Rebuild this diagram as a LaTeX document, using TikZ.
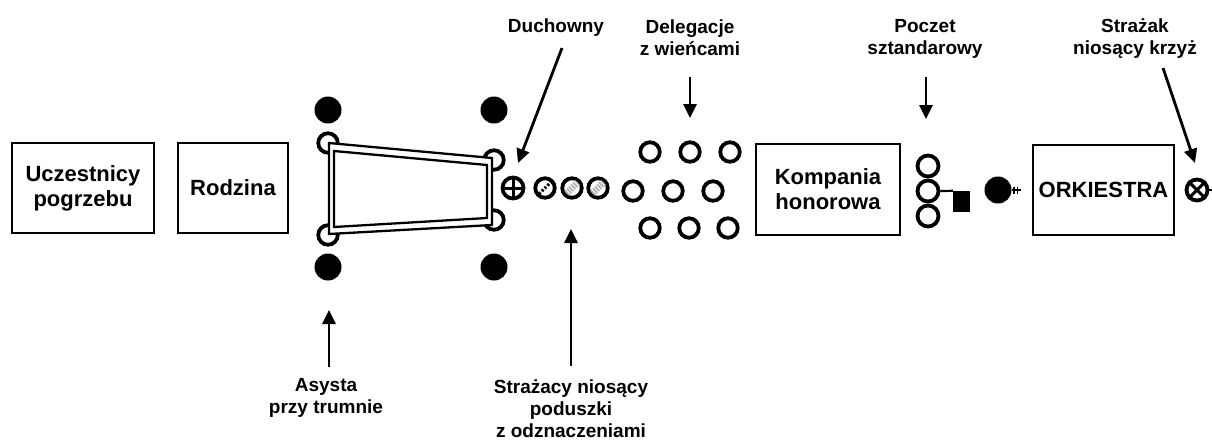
\documentclass[tikz,border=0pt]{standalone}
\usepackage{fontspec}
\setmainfont{Liberation Sans}
\usetikzlibrary{arrows.meta}
\newcommand{\boxfont}{\fontsize{22}{25}\selectfont\bfseries}
\newcommand{\lblfont}{\fontsize{19}{22}\selectfont\bfseries}
\begin{document}
\begin{tikzpicture}[x=1pt,y=-1pt,
  box/.style={draw, line width=2.3pt, inner sep=0pt, align=center, font=\boxfont},
  person/.style={circle, draw, line width=3.8pt, minimum size=19.5pt, inner sep=0pt, fill=white},
  dotp/.style={circle, fill, minimum size=27pt, inner sep=0pt},
  lbl/.style={font=\lblfont, align=center, inner sep=0pt, anchor=north},
  pointer/.style={line width=2.8pt, -{Triangle[width=13pt,length=14pt]}},
  hatchk/.style={line width=3pt, dash pattern=on 2.2pt off 1.8pt},
  hatchg/.style={line width=6.5pt, gray!60, dash pattern=on 1.8pt off 1.1pt}
]
\useasboundingbox (0,0) rectangle (1212,440);

% boxes
\node[box, minimum width=142pt, minimum height=90pt] (ucz) at (83,188) {Uczestnicy\\pogrzebu};
\node[box, minimum width=110pt, minimum height=90pt] (rodz) at (233,188) {Rodzina};
\node[box, minimum width=144pt, minimum height=91pt] (komp) at (828,189.5) {Kompania\\honorowa};
\node[box, minimum width=141pt, minimum height=90pt] (ork) at (1103.5,190) {ORKIESTRA};

% assistance at coffin
\node[dotp] (d1) at (328,110) {};
\node[dotp] (d2) at (328,267) {};
\node[dotp] (d3) at (494,110) {};
\node[dotp] (d4) at (494,267) {};
\node[person] (a1) at (328,143) {};
\node[person] (a2) at (328,235) {};
\node[person] (a3) at (494,160) {};
\node[person] (a4) at (494,220) {};

% coffin
\draw[line width=2.3pt, fill=white] (329,143) -- (492,158) -- (492,225) -- (329,234) -- cycle;
\draw[line width=2.3pt] (334,151) -- (487,165) -- (487,218) -- (334,227) -- cycle;

% priest
\node[person, minimum size=21pt] (duch) at (513,188) {};
\draw[line width=3pt] (duch.north) -- (duch.south) (duch.west) -- (duch.east);

% firefighters with cushions
\node[person] (p1) at (545,188) {};
\node[person] (p2) at (572,188) {};
\node[person] (p3) at (598,188) {};
\draw[hatchg] ([shift={(-5.5,5.5)}]p2.center) -- ([shift={(5.5,-5.5)}]p2.center);
\draw[hatchg] ([shift={(-5.5,5.5)}]p3.center) -- ([shift={(5.5,-5.5)}]p3.center);
\draw[hatchk] ([shift={(-6,6)}]p1.center) -- ([shift={(6,-6)}]p1.center);

% delegations
\node[person] (w1) at (650,152) {};
\node[person] (w2) at (690,152) {};
\node[person] (w3) at (730,152) {};
\node[person] (w4) at (633,191) {};
\node[person] (w5) at (673,191) {};
\node[person] (w6) at (713,191) {};
\node[person] (w7) at (650,228) {};
\node[person] (w8) at (689,228) {};
\node[person] (w9) at (728,228) {};

% banner party
\node[person, minimum size=21pt] (s1) at (928,166) {};
\node[person, minimum size=21pt] (s2) at (928,191) {};
\node[person, minimum size=21pt] (s3) at (928,216) {};
\node[fill, minimum width=17pt, minimum height=21pt, inner sep=0pt] (flag) at (961.5,201.5) {};
\draw[line width=2.2pt] (s2.east) -- (flag.north west);

% firefighter (dot with tail)
\node[dotp] (pr) at (998,190) {};
\coordinate (prt) at (1021,190);
\draw[line width=2.2pt] (pr.east) -- (prt);
\draw[line width=1.6pt] (1014,186.5) -- (1014,193.5) (1017.5,186.5) -- (1017.5,193.5);

% cross bearer
\node[person, minimum size=21pt] (krz) at (1197,190) {};
\draw[line width=3pt] (krz.45) -- (krz.225) (krz.135) -- (krz.315);
\coordinate (krzt) at (1212,190);
\draw[line width=2.2pt] (krz.east) -- (krzt);

% labels
\node[lbl] (lduch) at (556,19) {Duchowny};
\node[lbl] (ldel) at (690,20) {Delegacje\\z wieńcami};
\node[lbl] (lpocz) at (925,19) {Poczet\\sztandarowy};
\node[lbl] (lkrz) at (1135,19) {Strażak\\niosący krzyż};
\node[lbl] (lasy) at (326,378) {Asysta\\przy trumnie};
\node[lbl] (lpod) at (571,380) {Strażacy niosący\\poduszki\\z odznaczeniami};

% pointers
\coordinate (duchS) at (562,48);   \coordinate (duchT) at (518,163);
\coordinate (delS) at (690,77);    \coordinate (delT) at (690,118);
\coordinate (poczS) at (926,77);   \coordinate (poczT) at (926,119);
\coordinate (krzS) at (1163,68);   \coordinate (krzT) at (1195,163);
\coordinate (asyS) at (329,367);   \coordinate (asyT) at (329,310);
\coordinate (podS) at (571,366);   \coordinate (podT) at (571,229);
\draw[pointer] (duchS) -- (duchT);
\draw[pointer] (delS) -- (delT);
\draw[pointer] (poczS) -- (poczT);
\draw[pointer] (krzS) -- (krzT);
\draw[pointer] (asyS) -- (asyT);
\draw[pointer] (podS) -- (podT);
\end{tikzpicture}
\end{document}
